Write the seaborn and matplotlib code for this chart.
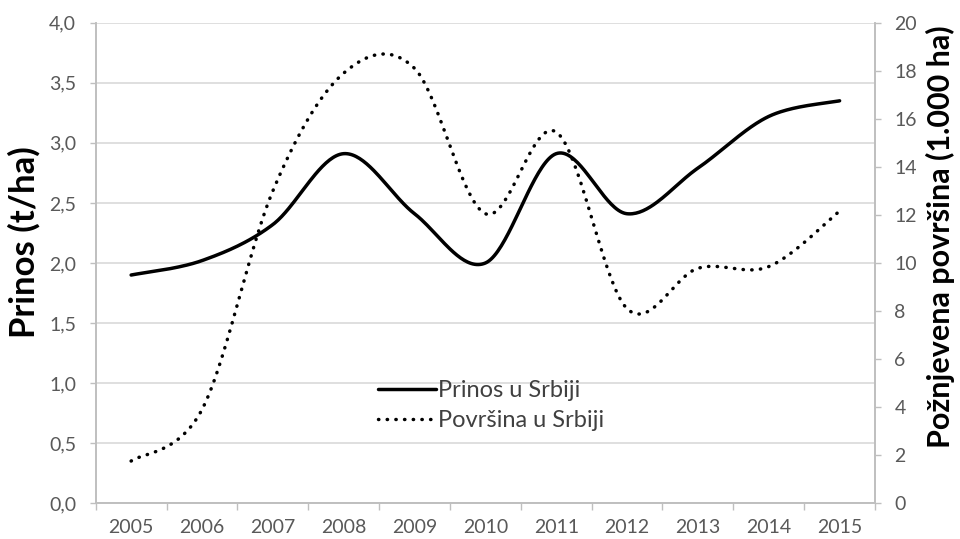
import numpy as np
import pandas as pd
import matplotlib
matplotlib.use("Agg")
import matplotlib.pyplot as plt
import seaborn as sns
from matplotlib.lines import Line2D
from matplotlib.ticker import FixedLocator, FuncFormatter

# ---- data ----
years = ["2005", "2006", "2007", "2008", "2009", "2010",
         "2011", "2012", "2013", "2014", "2015"]
prinos = [1.90, 2.02, 2.32, 2.91, 2.41, 2.00, 2.91, 2.41, 2.79, 3.22, 3.35]
povrsina = [1.76, 3.9, 13.0, 17.9, 18.1, 12.05, 15.45, 8.1, 9.78, 9.85, 12.16]
left_ticks = [0.0, 0.5, 1.0, 1.5, 2.0, 2.5, 3.0, 3.5, 4.0]
right_ticks = [0, 2, 4, 6, 8, 10, 12, 14, 16, 18, 20]
label_prinos = "Prinos u Srbiji"
label_povrsina = "Površina u Srbiji"


def smooth(vals, n=40):
    """Excel-style smoothed line (Bezier through the points)."""
    P = np.column_stack([np.arange(len(vals), dtype=float), np.asarray(vals, float)])
    segs = []
    for i in range(len(P) - 1):
        p0 = P[i - 1] if i > 0 else P[i]
        p3 = P[i + 2] if i + 2 < len(P) else P[i + 1]
        p1, p2 = P[i], P[i + 1]
        c1 = p1 + (p2 - p0) / 6.0
        c2 = p2 - (p3 - p1) / 6.0
        t = np.linspace(0, 1, n, endpoint=(i == len(P) - 2))[:, None]
        segs.append((1 - t) ** 3 * p1 + 3 * (1 - t) ** 2 * t * c1
                    + 3 * (1 - t) * t ** 2 * c2 + t ** 3 * p2)
    s = np.vstack(segs)
    return pd.DataFrame({"x": s[:, 0], "y": s[:, 1]})


sns.set_theme(style="white")
plt.rcParams["font.family"] = ["Lato", "DejaVu Sans"]

grid_c = "#D9D9D9"
axis_c = "#BFBFBF"
tick_c = "#595959"

fig = plt.figure(figsize=(9.6, 5.39), dpi=100)
ax = fig.add_axes([0.0997, 0.0662, 0.8118, 0.8917])
ax2 = ax.twinx()

df1 = smooth(prinos)
df2 = smooth(povrsina)

sns.lineplot(data=df1, x="x", y="y", ax=ax, sort=False, estimator=None,
             color="black", linewidth=2.5, solid_capstyle="round")
sns.lineplot(data=df2, x="x", y="y", ax=ax2, sort=False, estimator=None,
             color="black", linewidth=2.5, linestyle=(0, (0.1, 2.4)),
             dash_capstyle="round")

# x axis
ax.set_xlim(-0.5, len(years) - 0.5)
ax.xaxis.set_major_locator(FixedLocator(range(len(years))))
ax.set_xticklabels(years)
ax.xaxis.set_minor_locator(FixedLocator(np.arange(-0.5, len(years), 1.0)))
ax.tick_params(axis="x", which="major", length=0, pad=11, labelsize=14, labelcolor=tick_c)
ax.tick_params(axis="x", which="minor", length=5, width=1, color=axis_c, direction="out", bottom=True)

# left axis
ax.set_ylim(0, 4)
ax.set_yticks(left_ticks)
ax.yaxis.set_major_formatter(FuncFormatter(lambda v, p: f"{v:.1f}".replace(".", ",")))
ax.tick_params(axis="y", length=4, width=1, color=axis_c, direction="out", left=True,
               labelsize=14, labelcolor=tick_c, pad=10)
ax.grid(True, axis="y", color=grid_c, linewidth=1.2)
ax.grid(False, axis="x")
ax.set_axisbelow(True)

# right axis
ax2.set_ylim(0, 20)
ax2.set_yticks(right_ticks)
ax2.tick_params(axis="y", length=4, width=1, color=axis_c, direction="out", right=True,
                labelsize=14, labelcolor=tick_c, pad=10)
ax2.grid(False)

for a in (ax, ax2):
    a.set_xlabel("")
    a.spines["top"].set_visible(False)
    for s in ("left", "right", "bottom"):
        a.spines[s].set_color(axis_c)
        a.spines[s].set_linewidth(1.2)

ax.set_ylabel("Prinos (t/ha)", fontsize=25, fontweight="bold", color="black", labelpad=6)
ax.yaxis.label.set_y(0.544)
ax2.set_ylabel("Požnjevena površina (1.000 ha)", fontsize=22, fontweight="bold",
               color="black", labelpad=6)
ax2.yaxis.label.set_y(0.554)

handles = [Line2D([], [], color="black", linewidth=2.5),
           Line2D([], [], color="black", linewidth=2.5, linestyle=(0, (0.1, 2.4)),
                  dash_capstyle="round")]
leg = ax.legend(handles, [label_prinos, label_povrsina], loc="upper left",
                bbox_to_anchor=(378 / 960, 1 - 380 / 539), bbox_transform=fig.transFigure,
                frameon=False, fontsize=17, handlelength=2.45, handletextpad=0.1,
                labelspacing=0.4, borderpad=0, borderaxespad=0)
for t in leg.get_texts():
    t.set_color("#404040")

fig.savefig("out.png", dpi=100)
